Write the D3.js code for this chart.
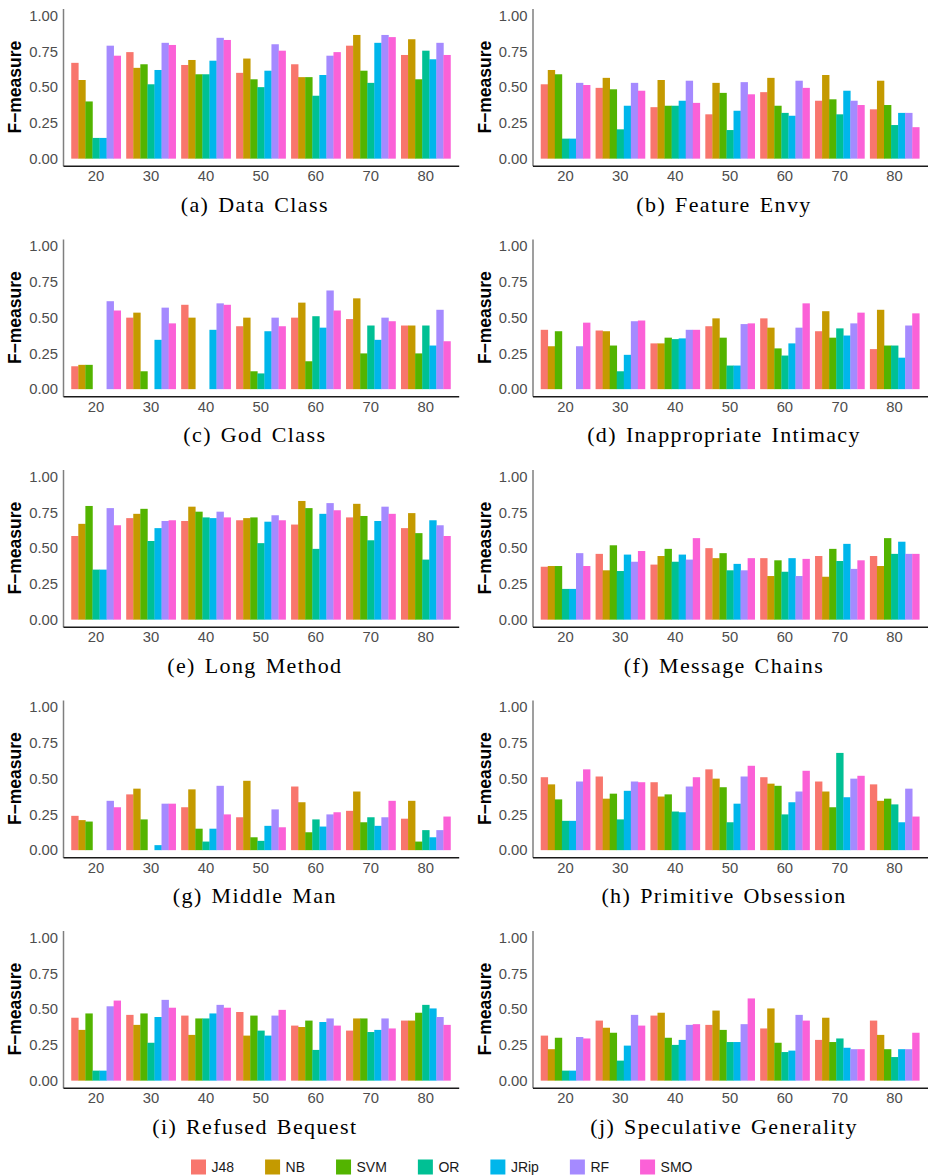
<!doctype html>
<html lang="en">
<head>
	<meta charset="UTF-8">
	<title>F-measure per smell</title>
	<script src="https://cdn.jsdelivr.net/npm/d3@7"></script>
	<style>
		body { margin: 0; background: #fff; }
		.tick text { font-family: "Liberation Sans", Arial, sans-serif; font-size: 14.8px; fill: #4d4d4d; }
	</style>
</head>
<body>

	<script type="text/javascript">
		var W = 931, H = 1175;

		var groups = ["20", "30", "40", "50", "60", "70", "80"];
		var algos = ["J48", "NB", "SVM", "OR", "JRip", "RF", "SMO"];
		var colors = ["#F8766D", "#C49A00", "#53B400", "#00C094", "#00B6EB", "#A58AFF", "#FB61D7"];
		var yTicks = [0, 0.25, 0.5, 0.75, 1];

		// one row per group (20..80), one column per algorithm
		var dataClass = [
			[0.67, 0.55, 0.40, 0.145, 0.145, 0.79, 0.72],
			[0.745, 0.635, 0.66, 0.52, 0.62, 0.81, 0.795],
			[0.655, 0.69, 0.59, 0.59, 0.685, 0.845, 0.83],
			[0.60, 0.70, 0.555, 0.50, 0.615, 0.80, 0.755],
			[0.66, 0.57, 0.57, 0.44, 0.585, 0.72, 0.745],
			[0.79, 0.865, 0.615, 0.53, 0.81, 0.865, 0.85],
			[0.725, 0.835, 0.555, 0.755, 0.695, 0.81, 0.725]
		];
		var featureEnvy = [
			[0.52, 0.62, 0.59, 0.14, 0.14, 0.53, 0.515],
			[0.495, 0.565, 0.485, 0.205, 0.37, 0.53, 0.475],
			[0.36, 0.55, 0.37, 0.37, 0.405, 0.545, 0.39],
			[0.31, 0.53, 0.46, 0.20, 0.335, 0.535, 0.45],
			[0.465, 0.565, 0.37, 0.32, 0.30, 0.545, 0.495],
			[0.405, 0.585, 0.415, 0.31, 0.475, 0.405, 0.375],
			[0.345, 0.545, 0.375, 0.235, 0.32, 0.32, 0.22]
		];
		var godClass = [
			[0.16, 0.17, 0.17, 0, 0, 0.615, 0.55],
			[0.50, 0.535, 0.125, 0, 0.345, 0.57, 0.46],
			[0.59, 0.50, 0, 0, 0.415, 0.60, 0.59],
			[0.44, 0.50, 0.125, 0.11, 0.405, 0.50, 0.44],
			[0.50, 0.605, 0.195, 0.51, 0.43, 0.69, 0.55],
			[0.49, 0.635, 0.25, 0.445, 0.345, 0.50, 0.475],
			[0.445, 0.445, 0.25, 0.445, 0.305, 0.555, 0.335]
		];
		var inappropriateIntimacy = [
			[0.415, 0.30, 0.405, 0, 0, 0.30, 0.465],
			[0.41, 0.405, 0.305, 0.125, 0.24, 0.475, 0.48],
			[0.32, 0.32, 0.36, 0.35, 0.355, 0.415, 0.415],
			[0.44, 0.495, 0.36, 0.165, 0.165, 0.455, 0.46],
			[0.495, 0.43, 0.285, 0.235, 0.32, 0.43, 0.60],
			[0.405, 0.545, 0.36, 0.425, 0.375, 0.46, 0.535],
			[0.28, 0.555, 0.305, 0.305, 0.22, 0.445, 0.53]
		];
		var longMethod = [
			[0.585, 0.67, 0.795, 0.35, 0.35, 0.78, 0.66],
			[0.71, 0.74, 0.775, 0.55, 0.64, 0.69, 0.695],
			[0.69, 0.79, 0.755, 0.715, 0.71, 0.755, 0.715],
			[0.695, 0.71, 0.715, 0.535, 0.685, 0.73, 0.695],
			[0.665, 0.83, 0.78, 0.495, 0.74, 0.815, 0.765],
			[0.715, 0.81, 0.725, 0.555, 0.69, 0.79, 0.74],
			[0.64, 0.745, 0.605, 0.42, 0.695, 0.66, 0.585]
		];
		var messageChains = [
			[0.37, 0.375, 0.375, 0.215, 0.215, 0.465, 0.375],
			[0.46, 0.345, 0.52, 0.34, 0.455, 0.405, 0.48],
			[0.385, 0.445, 0.495, 0.405, 0.455, 0.42, 0.57],
			[0.50, 0.43, 0.465, 0.345, 0.39, 0.345, 0.43],
			[0.43, 0.305, 0.415, 0.335, 0.43, 0.305, 0.425],
			[0.445, 0.30, 0.495, 0.41, 0.53, 0.355, 0.415],
			[0.445, 0.375, 0.57, 0.46, 0.545, 0.46, 0.46]
		];
		var middleMan = [
			[0.24, 0.21, 0.20, 0, 0, 0.345, 0.30],
			[0.39, 0.43, 0.215, 0, 0.035, 0.325, 0.325],
			[0.30, 0.425, 0.15, 0.06, 0.15, 0.45, 0.25],
			[0.23, 0.485, 0.09, 0.065, 0.17, 0.285, 0.16],
			[0.445, 0.335, 0.125, 0.215, 0.165, 0.25, 0.265],
			[0.275, 0.41, 0.195, 0.23, 0.17, 0.23, 0.345],
			[0.22, 0.345, 0.06, 0.14, 0.09, 0.14, 0.235]
		];
		var primitiveObsession = [
			[0.51, 0.46, 0.355, 0.205, 0.205, 0.48, 0.565],
			[0.515, 0.36, 0.395, 0.215, 0.415, 0.48, 0.475],
			[0.475, 0.375, 0.39, 0.27, 0.265, 0.445, 0.51],
			[0.565, 0.50, 0.44, 0.195, 0.325, 0.515, 0.59],
			[0.51, 0.465, 0.45, 0.25, 0.335, 0.41, 0.555],
			[0.48, 0.41, 0.30, 0.68, 0.37, 0.50, 0.52],
			[0.46, 0.345, 0.36, 0.32, 0.195, 0.43, 0.235]
		];
		var refusedBequest = [
			[0.44, 0.355, 0.47, 0.07, 0.07, 0.52, 0.56],
			[0.46, 0.39, 0.47, 0.265, 0.445, 0.565, 0.51],
			[0.455, 0.32, 0.435, 0.435, 0.47, 0.53, 0.51],
			[0.48, 0.315, 0.455, 0.35, 0.315, 0.455, 0.495],
			[0.385, 0.375, 0.42, 0.215, 0.41, 0.435, 0.385],
			[0.35, 0.435, 0.435, 0.34, 0.355, 0.435, 0.365],
			[0.42, 0.42, 0.475, 0.53, 0.505, 0.445, 0.39]
		];
		var speculativeGenerality = [
			[0.315, 0.22, 0.30, 0.07, 0.07, 0.305, 0.295],
			[0.42, 0.37, 0.335, 0.14, 0.245, 0.46, 0.385],
			[0.455, 0.475, 0.30, 0.25, 0.285, 0.39, 0.395],
			[0.39, 0.49, 0.355, 0.27, 0.27, 0.395, 0.575],
			[0.365, 0.505, 0.265, 0.20, 0.21, 0.46, 0.42],
			[0.285, 0.44, 0.27, 0.295, 0.23, 0.22, 0.22],
			[0.42, 0.32, 0.22, 0.165, 0.22, 0.22, 0.335]
		];

		var panels = [
			{ cap: "(a) Data Class", vals: dataClass },
			{ cap: "(b) Feature Envy", vals: featureEnvy },
			{ cap: "(c) God Class", vals: godClass },
			{ cap: "(d) Inappropriate Intimacy", vals: inappropriateIntimacy },
			{ cap: "(e) Long Method", vals: longMethod },
			{ cap: "(f) Message Chains", vals: messageChains },
			{ cap: "(g) Middle Man", vals: middleMan },
			{ cap: "(h) Primitive Obsession", vals: primitiveObsession },
			{ cap: "(i) Refused Bequest", vals: refusedBequest },
			{ cap: "(j) Speculative Generality", vals: speculativeGenerality }
		];

		var colLeft = [63, 532.5], colW = [395.7, 395], top0 = 8.5, rowStep = 230.5, ph = 157.3;

		var svg = d3.select("body").append("svg")
			.attr("width", W)
			.attr("height", H);

		var color = d3.scaleOrdinal().domain(algos).range(colors);

		panels.forEach(function(p, k) {
			var col = k % 2, row = Math.floor(k / 2);
			var pw = colW[col];
			var g = svg.append("g")
				.attr("transform", "translate(" + colLeft[col] + "," + (top0 + row * rowStep) + ")");

			var x0 = d3.scaleBand().domain(groups).range([0, pw]).paddingInner(0.1).paddingOuter(0.15);
			var x1 = d3.scaleBand().domain(algos).range([0, x0.bandwidth()]);
			var y = d3.scaleLinear().domain([-0.05, 1.05]).range([ph, 0]);

			var grp = g.selectAll("g.grp")
				.data(p.vals)
				.enter().append("g")
				.attr("class", "grp")
				.attr("transform", function(d, i) { return "translate(" + x0(groups[i]) + ",0)"; });

			grp.selectAll("rect")
				.data(function(d) { return d.map(function(v, j) { return { a: algos[j], v: v }; }); })
				.enter().append("rect")
				.attr("x", function(d) { return x1(d.a); })
				.attr("y", function(d) { return y(d.v); })
				.attr("width", x1.bandwidth() + 0.3)
				.attr("height", function(d) { return y(0) - y(d.v); })
				.attr("fill", function(d) { return color(d.a); });

			var ya = g.append("g")
				.call(d3.axisLeft(y).tickValues(yTicks).tickFormat(d3.format(".2f")).tickSize(0).tickPadding(5));
			ya.select(".domain").attr("stroke", "#7f7f7f").attr("stroke-width", 1.5);

			var xa = g.append("g")
				.attr("transform", "translate(0," + ph + ")")
				.call(d3.axisBottom(x0).tickSize(0).tickPadding(5));
			xa.select(".domain").attr("stroke", "#1a1a1a").attr("stroke-width", 1.5);

			g.append("text")
				.attr("transform", "translate(" + (-48) + "," + (ph / 2) + ") rotate(-90)")
				.attr("dy", "0.35em")
				.attr("text-anchor", "middle")
				.style("font-family", "'Liberation Sans', Arial, sans-serif")
				.style("font-weight", "bold")
				.style("font-size", "17.5px")
				.attr("fill", "#000")
				.text("F\u2212measure");

			g.append("text")
				.attr("x", pw / 2 - 6)
				.attr("y", ph + 46)
				.attr("text-anchor", "middle")
				.style("font-family", "'Liberation Serif', 'Times New Roman', serif")
				.style("font-size", "22px")
				.style("letter-spacing", "1.4px")
				.style("word-spacing", "2px")
				.attr("fill", "#000")
				.text(p.cap);
		});

		// legend along the bottom
		var leg = svg.append("g").attr("transform", "translate(191,1167)");
		var lx = 0;
		algos.forEach(function(a) {
			leg.append("rect")
				.attr("x", lx).attr("y", -7.5)
				.attr("width", 15).attr("height", 15)
				.attr("fill", color(a));
			var t = leg.append("text")
				.attr("x", lx + 20.5)
				.attr("dy", "0.36em")
				.style("font-family", "'Liberation Sans', Arial, sans-serif")
				.style("font-size", "14px")
				.attr("fill", "#1a1a1a")
				.text(a);
			lx += 20.5 + t.node().getComputedTextLength() + 31;
		});

	</script>

</body>
</html>
